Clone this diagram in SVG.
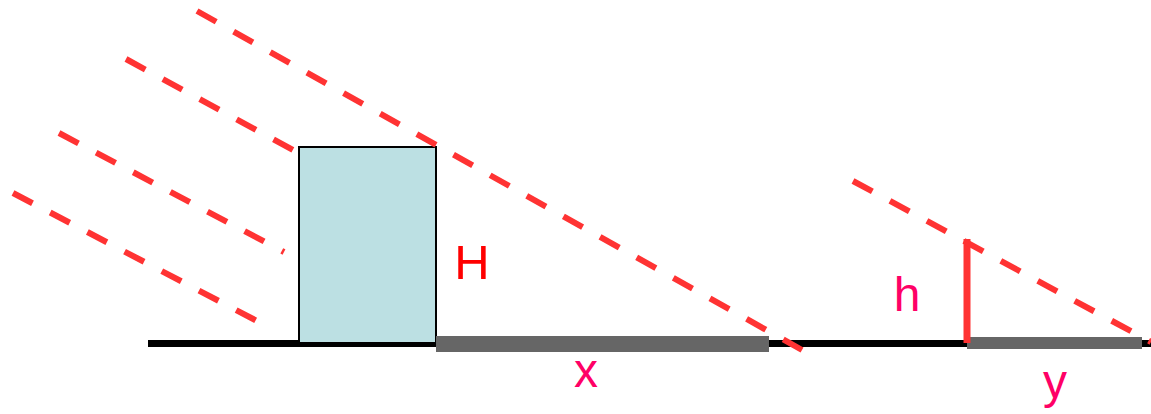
<svg xmlns="http://www.w3.org/2000/svg" width="1151" height="414" viewBox="0 0 1151 414">
<style>
.ray{stroke:#FF3333;stroke-width:6;stroke-dasharray:22 20;fill:none}
.lbl{font-family:"Liberation Sans",Arial,sans-serif;font-size:48px;text-anchor:middle}
</style>
<rect width="1151" height="414" fill="#fff"/>
<g id="ground">
<line x1="148" y1="343.5" x2="1151" y2="343.5" stroke="#000" stroke-width="7"/>
</g>
<g id="building">
<rect x="299" y="147" width="137" height="196" fill="#BCE0E3" stroke="#000" stroke-width="2"/>
</g>
<g id="shadow-x">
<rect x="436" y="336" width="333" height="16" fill="#666666"/>
</g>
<g id="shadow-y">
<rect x="967" y="337" width="175" height="12" fill="#666666"/>
</g>
<g id="stick">
<line x1="967" y1="239" x2="967" y2="343" stroke="#FF3333" stroke-width="7"/>
</g>
<g id="rays">
<line class="ray" x1="197" y1="11" x2="802" y2="350"/>
<line class="ray" x1="126" y1="59" x2="293" y2="150"/>
<line class="ray" x1="59" y1="133" x2="284" y2="252"/>
<line class="ray" x1="13" y1="193" x2="257" y2="321"/>
<line class="ray" x1="853" y1="181" x2="1151" y2="342"/>
</g>
<g id="labels">
<text class="lbl" x="472" y="279" fill="#FF0000" style="font-size:49px">H</text>
<text class="lbl" x="907" y="311" fill="#FF0066">h</text>
<text class="lbl" x="586" y="387" fill="#FF0066">x</text>
<text class="lbl" x="1055" y="398" fill="#FF0066">y</text>
</g>
</svg>
